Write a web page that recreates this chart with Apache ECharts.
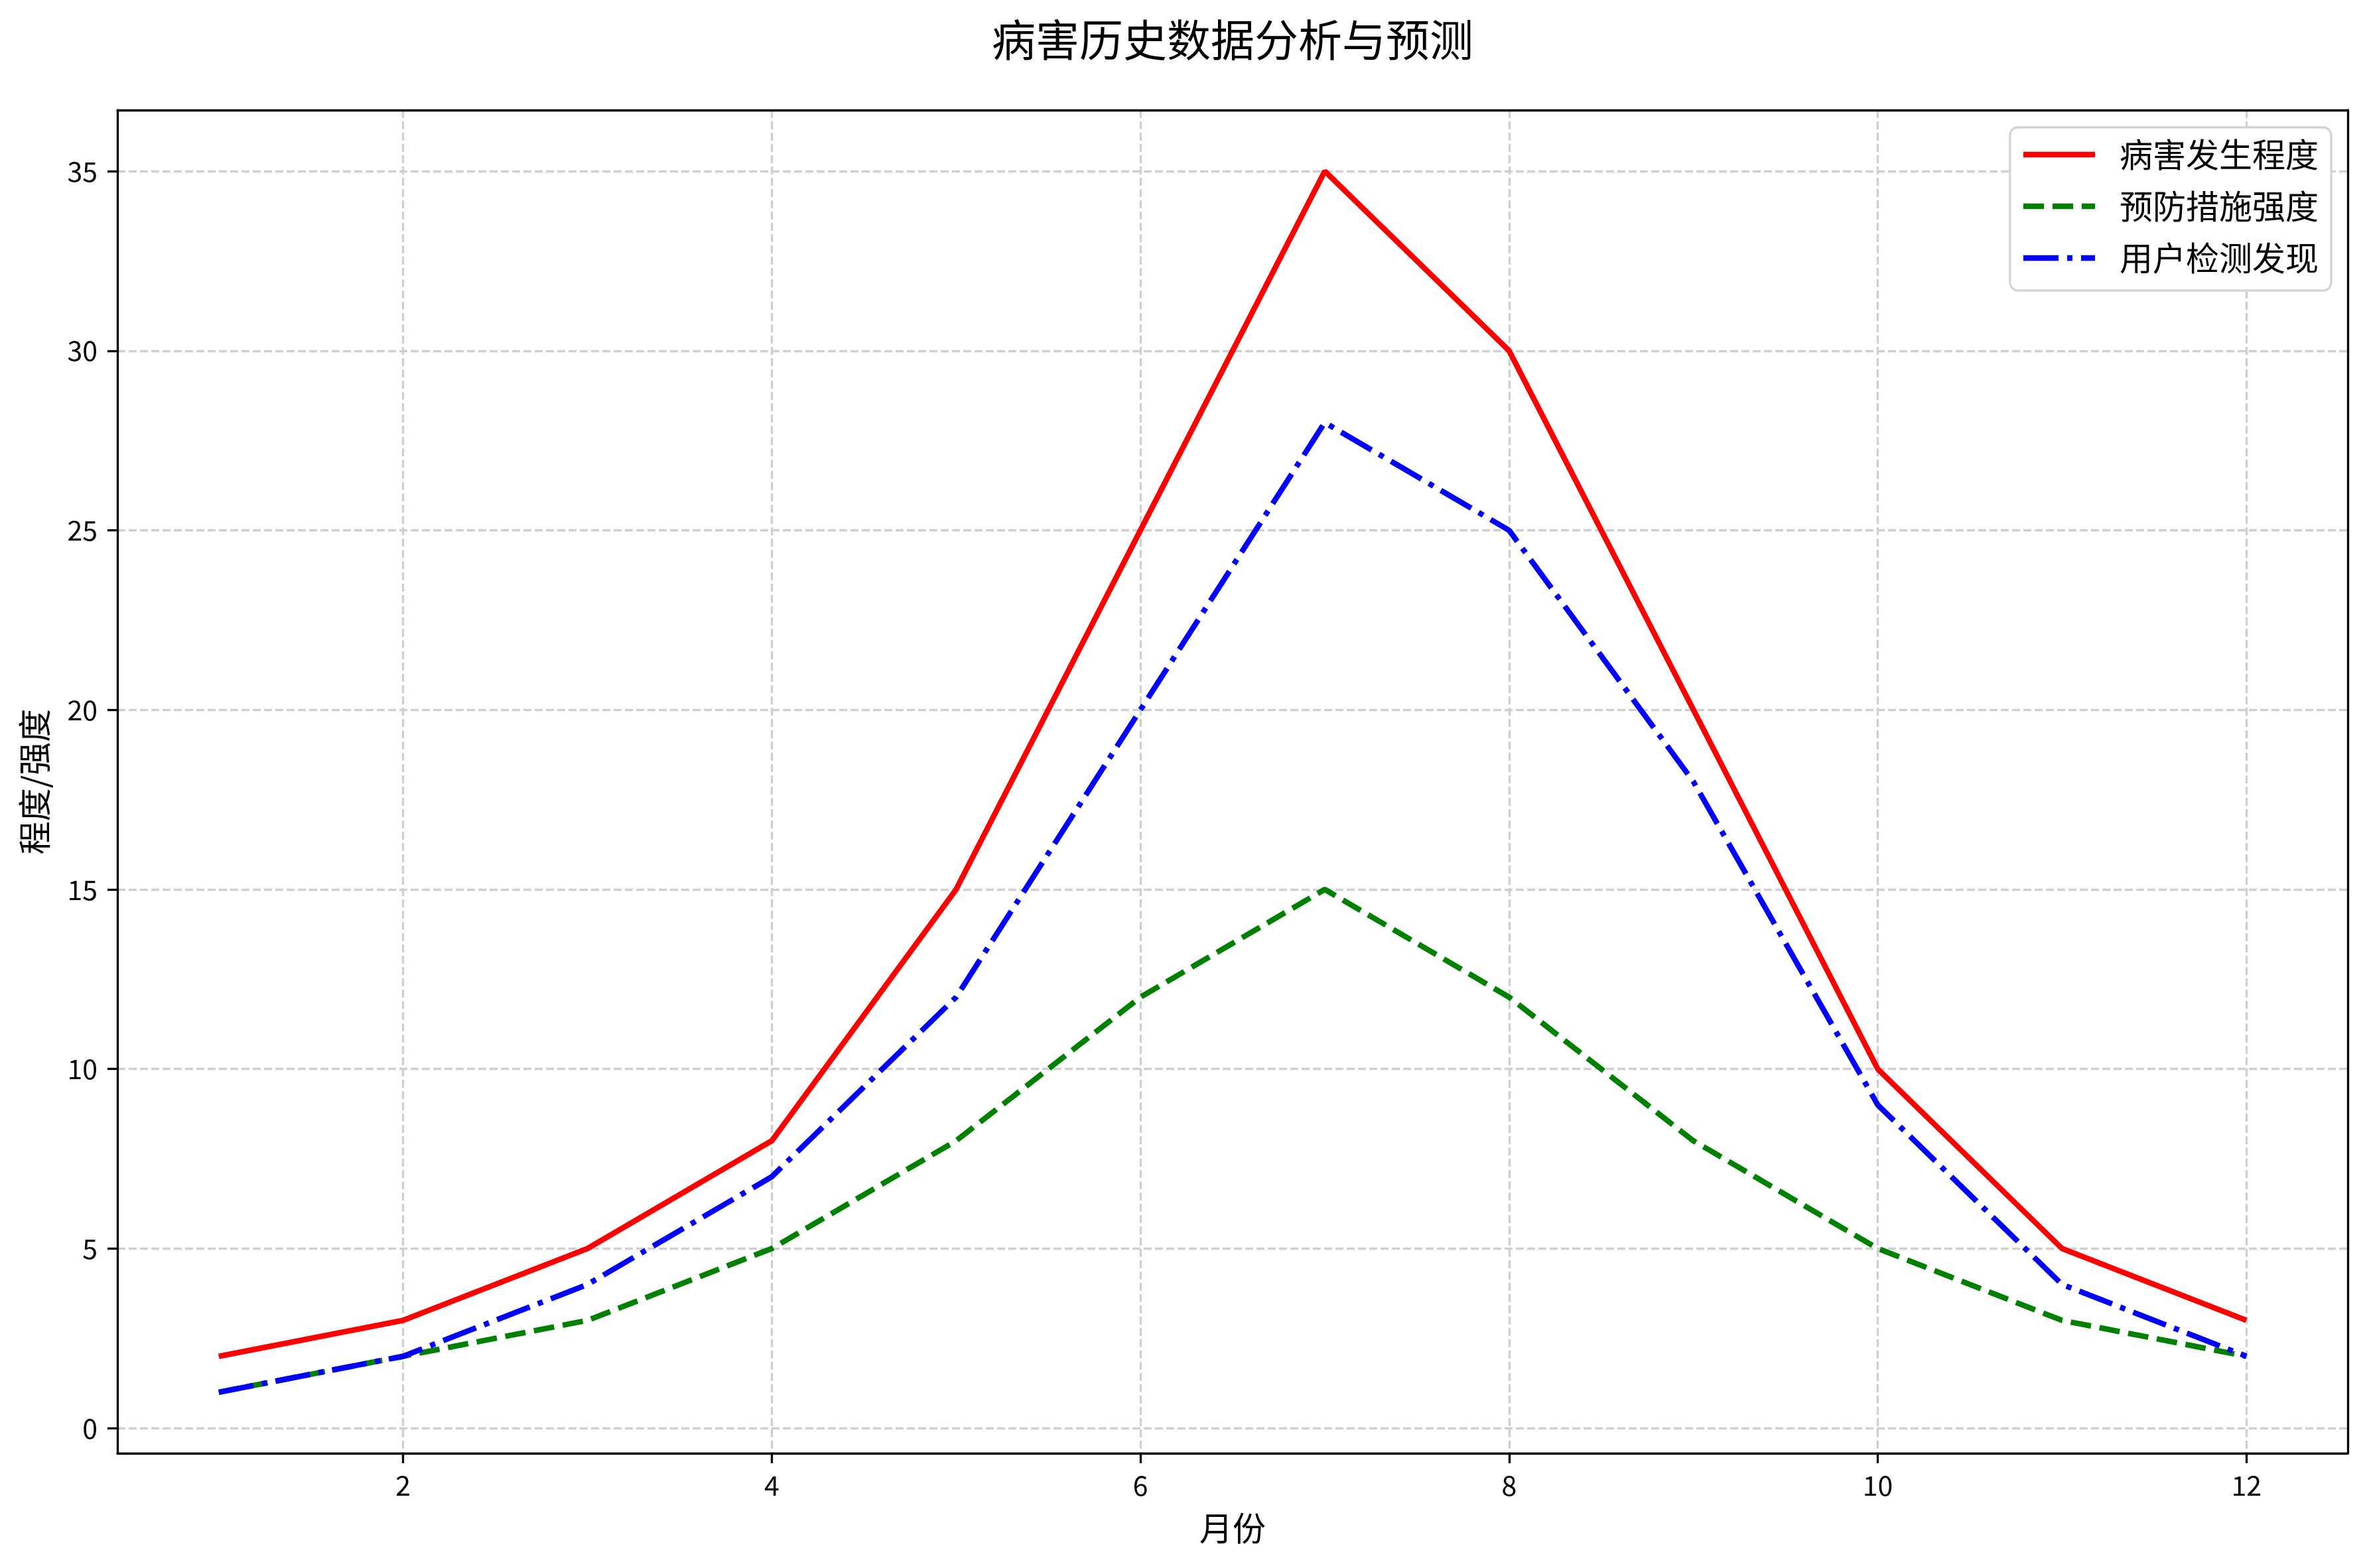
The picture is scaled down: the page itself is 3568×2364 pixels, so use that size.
<!DOCTYPE html>
<html>
<head>
<meta charset="utf-8">
<script src="https://cdn.jsdelivr.net/npm/echarts@6/dist/echarts.min.js"></script>
<style>
html,body{margin:0;padding:0;background:#fff;}
#chart{width:3568px;height:2364px;}
</style>
</head>
<body>
<div id="chart"></div>
<script>
const months = [1,2,3,4,5,6,7,8,9,10,11,12];
const diseaseLevel = [2,3,5,8,15,25,35,30,20,10,5,3];
const preventionLevel = [1,2,3,5,8,12,15,12,8,5,3,2];
const userDetection = [1,2,4,7,12,20,28,25,18,9,4,2];
const seriesNames = ['病害发生程度','预防措施强度','用户检测发现'];
const xTicks = [2,4,6,8,10,12];
const yTicks = [0,5,10,15,20,25,30,35];
const titleText = '病害历史数据分析与预测';
const xName = '月份';
const yName = '程度/强度';

const FONT = '"Noto Sans CJK SC", "Noto Sans", sans-serif';
const pair = (vals) => months.map((m, i) => [m, vals[i]]);

const chart = echarts.init(document.getElementById('chart'), null, {renderer: 'canvas'});
const axisLine = {show: true, onZero: false, lineStyle: {color: '#000', width: 3.3}};
const gridLine = {show: true,
  lineStyle: {color: '#cfcfcf', width: 3.3, type: [12, 5]}};

chart.setOption({
  animation: false,
  backgroundColor: '#fff',
  title: {
    text: titleText,
    left: 1853,
    top: 22,
    textAlign: 'center',
    textStyle: {fontFamily: FONT, fontSize: 66, fontWeight: 'normal', color: '#000', lineHeight: 66}
  },
  grid: {left: 177, right: 29, top: 166, bottom: 173, outerBoundsMode: 'none', containLabel: false},
  legend: {
    orient: 'vertical',
    right: 54,
    top: 192,
    padding: [13, 19, 21, 16],
    itemWidth: 108,
    itemHeight: 20,
    itemGap: 22,
    backgroundColor: '#fff',
    borderColor: '#d4d4d4',
    borderWidth: 3.3,
    borderRadius: 12,
    selectedMode: false,
    itemStyle: {opacity: 0, borderWidth: 0},
    lineStyle: {width: 8.3},
    textStyle: {fontFamily: FONT, fontSize: 50, color: '#000', lineHeight: 56, padding: [0, 0, 0, 32]},
    data: seriesNames
  },
  xAxis: [{
    type: 'value', min: 0.45, max: 12.55, position: 'bottom',
    name: xName, nameLocation: 'middle', nameGap: 88,
    nameTextStyle: {fontFamily: FONT, fontSize: 50, color: '#000'},
    axisLine: axisLine,
    axisTick: {show: true, length: 15, customValues: xTicks, lineStyle: {color: '#000', width: 3.3}},
    axisLabel: {show: true, customValues: xTicks, fontFamily: FONT, fontSize: 41, color: '#000', margin: 28},
    splitLine: gridLine
  }, {
    type: 'value', min: 0.45, max: 12.55, position: 'top',
    axisLine: axisLine, axisTick: {show: false}, axisLabel: {show: false}, splitLine: {show: false}
  }],
  yAxis: [{
    type: 'value', min: -0.7, max: 36.7, splitNumber: 8, position: 'left',
    name: yName, nameLocation: 'middle', nameGap: 100,
    nameTextStyle: {fontFamily: FONT, fontSize: 50, color: '#000'},
    axisLine: axisLine,
    axisTick: {show: true, length: 15, customValues: yTicks, lineStyle: {color: '#000', width: 3.3}},
    axisLabel: {show: true, customValues: yTicks, fontFamily: FONT, fontSize: 41, color: '#000', margin: 30},
    splitLine: gridLine
  }, {
    type: 'value', min: -0.7, max: 36.7, position: 'right',
    axisLine: axisLine, axisTick: {show: false}, axisLabel: {show: false}, splitLine: {show: false}
  }],
  series: [{
    name: seriesNames[0], type: 'line', data: pair(diseaseLevel), symbol: 'none',
    xAxisIndex: 0, yAxisIndex: 0,
    lineStyle: {color: '#ff0000', width: 8.3, type: 'solid'}, itemStyle: {color: '#ff0000'}
  }, {
    name: seriesNames[1], type: 'line', data: pair(preventionLevel), symbol: 'none',
    xAxisIndex: 0, yAxisIndex: 0,
    lineStyle: {color: '#008000', width: 8.3, type: [31, 13]}, itemStyle: {color: '#008000'}
  }, {
    name: seriesNames[2], type: 'line', data: pair(userDetection), symbol: 'none',
    xAxisIndex: 0, yAxisIndex: 0,
    lineStyle: {color: '#0000ff', width: 8.3, type: [53, 13, 8, 13]}, itemStyle: {color: '#0000ff'}
  }]
});
</script>
</body>
</html>
